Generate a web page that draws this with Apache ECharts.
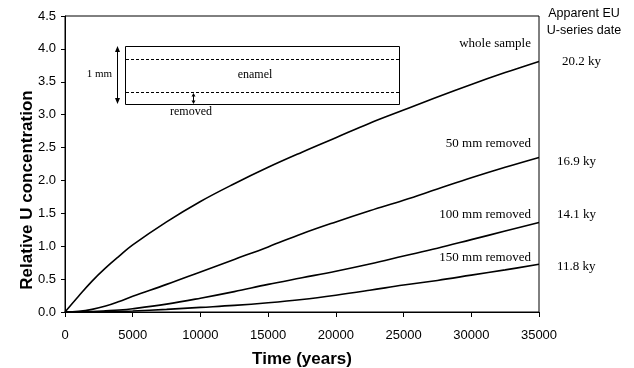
<!DOCTYPE html>
<html>
<head>
<meta charset="utf-8">
<script src="https://cdn.jsdelivr.net/npm/echarts@6/dist/echarts.min.js"></script>
<style>html,body{margin:0;padding:0;background:#fff}#c{width:634px;height:368px}</style>
</head>
<body>
<div id="c"></div>
<script>
var times = [0,1000,2000,3000,4000,5000,7500,10000,12500,15000,17500,20000,22500,25000,27500,30000,32500,35000];
var wholeSample = [0,0.24,0.47,0.67,0.85,1.02,1.37,1.68,1.95,2.20,2.43,2.65,2.87,3.07,3.27,3.46,3.64,3.81];
var removed50 = [0,0.01,0.04,0.09,0.16,0.24,0.42,0.61,0.80,0.99,1.19,1.37,1.54,1.70,1.87,2.04,2.20,2.35];
var removed100 = [0,0.002,0.008,0.018,0.03,0.05,0.12,0.21,0.31,0.42,0.52,0.62,0.73,0.85,0.97,1.10,1.23,1.36];
var removed150 = [0,0,0.002,0.006,0.01,0.015,0.04,0.07,0.10,0.14,0.19,0.255,0.33,0.41,0.48,0.56,0.64,0.725];
var seriesNames = ['whole sample','50 mm removed','100 mm removed','150 mm removed'];
var apparentDates = ['20.2 ky','16.9 ky','14.1 ky','11.8 ky'];
var xTitle = 'Time (years)';
var yTitle = 'Relative U concentration';
var headerLines = ['Apparent EU','U-series date'];
var insetTexts = ['1 mm','enamel','removed'];

var allSeries = [wholeSample, removed50, removed100, removed150];
function pairs(arr){ return times.map(function(t,i){ return [t, arr[i]]; }); }

var serif = "'Liberation Serif','Times New Roman',serif";
var sans = "'Liberation Sans',Arial,sans-serif";

// layout (pixel positions of annotation texts)
var nameLayout = [[531,43.5],[531,143.5],[531,214.5],[531,257.5]];
var dateLayout = [[562,62],[557,162],[557,215],[557,267]];

var graphics = [];
seriesNames.forEach(function(n,i){
  graphics.push({type:'text', x:nameLayout[i][0], y:nameLayout[i][1],
    style:{text:n, font:'13px '+serif, fill:'#000', textAlign:'right', textVerticalAlign:'middle'}});
});
apparentDates.forEach(function(n,i){
  graphics.push({type:'text', x:dateLayout[i][0], y:dateLayout[i][1],
    style:{text:n, font:'13px '+serif, fill:'#000', textAlign:'left', textVerticalAlign:'middle'}});
});
graphics.push({type:'text', x:584, y:13.5, style:{text:headerLines[0], font:'12.5px '+sans, fill:'#000', textAlign:'center', textVerticalAlign:'middle'}});
graphics.push({type:'text', x:584, y:31, style:{text:headerLines[1], font:'12.5px '+sans, fill:'#000', textAlign:'center', textVerticalAlign:'middle'}});
graphics.push({type:'text', x:27, y:190, rotation:Math.PI/2,
  style:{text:yTitle, font:'bold 17px '+sans, fill:'#000', textAlign:'center', textVerticalAlign:'middle'}});
// inset diagram
graphics.push({type:'rect', shape:{x:125.5,y:46.5,width:274,height:58}, style:{fill:'none',stroke:'#000',lineWidth:1}});
graphics.push({type:'line', shape:{x1:126,y1:59.5,x2:399,y2:59.5}, style:{stroke:'#000',lineWidth:1,lineDash:[3,2]}});
graphics.push({type:'line', shape:{x1:126,y1:92.5,x2:399,y2:92.5}, style:{stroke:'#000',lineWidth:1,lineDash:[3,2]}});
graphics.push({type:'line', shape:{x1:117.5,y1:50,x2:117.5,y2:100}, style:{stroke:'#000',lineWidth:1}});
graphics.push({type:'polygon', shape:{points:[[117.5,46],[115,52],[120,52]]}, style:{fill:'#000'}});
graphics.push({type:'polygon', shape:{points:[[117.5,104],[115,98],[120,98]]}, style:{fill:'#000'}});
graphics.push({type:'line', shape:{x1:193.5,y1:95,x2:193.5,y2:101.5}, style:{stroke:'#000',lineWidth:1}});
graphics.push({type:'polygon', shape:{points:[[193.5,93],[191.5,96.5],[195.5,96.5]]}, style:{fill:'#000'}});
graphics.push({type:'polygon', shape:{points:[[193.5,104],[191.5,100.5],[195.5,100.5]]}, style:{fill:'#000'}});
graphics.push({type:'text', x:112, y:74, style:{text:insetTexts[0], font:'11px '+serif, fill:'#000', textAlign:'right', textVerticalAlign:'middle'}});
graphics.push({type:'text', x:255, y:75, style:{text:insetTexts[1], font:'12px '+serif, fill:'#000', textAlign:'center', textVerticalAlign:'middle'}});
graphics.push({type:'text', x:191, y:111.5, style:{text:insetTexts[2], font:'12px '+serif, fill:'#000', textAlign:'center', textVerticalAlign:'middle'}});

var chart = echarts.init(document.getElementById('c'), null, {renderer:'canvas'});
chart.setOption({
  animation:false,
  backgroundColor:'#fff',
  grid:{left:65, right:95, top:16, bottom:56, show:true, borderColor:'#000', borderWidth:1, containLabel:false, outerBoundsMode:'none'},
  xAxis:{type:'value', min:0, max:35000, interval:5000,
    name:xTitle, nameLocation:'middle', nameGap:39,
    nameTextStyle:{fontFamily:sans, fontWeight:'bold', fontSize:17, color:'#000'},
    axisLine:{lineStyle:{color:'#000',width:1}},
    axisTick:{show:true, length:5, inside:false, lineStyle:{color:'#000'}},
    axisLabel:{fontFamily:sans, fontSize:13, color:'#000', margin:17, formatter:function(v){return String(v);}},
    splitLine:{show:false}},
  yAxis:{type:'value', min:0, max:4.5, interval:0.5,
    axisLine:{show:true, lineStyle:{color:'#000',width:1}},
    axisTick:{show:true, length:4, inside:false, lineStyle:{color:'#000'}},
    axisLabel:{fontFamily:sans, fontSize:13, color:'#000', margin:9, formatter:function(v){return v.toFixed(1);}},
    splitLine:{show:false}},
  series: allSeries.map(function(arr,i){
    return {type:'line', name:seriesNames[i], data:pairs(arr), smooth:0.4, showSymbol:false,
      lineStyle:{color:'#000', width:1.6}, itemStyle:{color:'#000'}};
  }),
  graphic: graphics
});
</script>
</body>
</html>
